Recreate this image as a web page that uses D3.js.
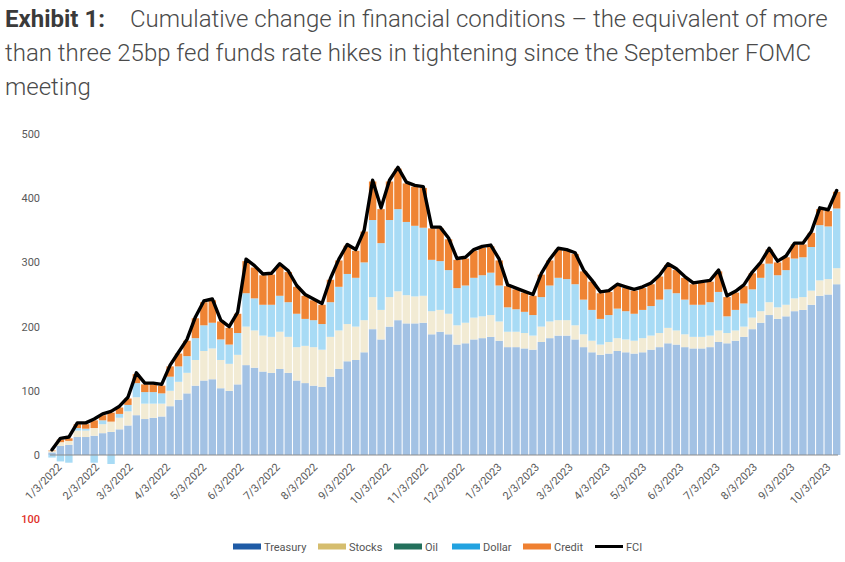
<!DOCTYPE html>
<html><head><meta charset="utf-8">
<script src="https://cdn.jsdelivr.net/npm/d3@7"></script>
<style>
html,body{margin:0;padding:0;background:#fff;}
svg{display:block;}
</style></head>
<body>
<svg id="chart" width="845" height="562"></svg>
<script>
// ---- Data (weekly readings, starting Monday 1/3/2022) ----
const fci      = [8,26,28,50,50,56,64,68,76,90,128,112,112,110,140,160,180,215,240,243,210,200,222,305,295,282,283,298,287,264,250,243,236,275,305,328,320,350,428,385,428,448,425,420,418,355,355,338,306,308,320,325,327,305,265,260,255,250,283,305,322,320,315,288,272,254,256,266,262,258,262,268,280,298,290,278,268,270,272,288,248,255,265,285,300,322,302,310,330,330,348,385,382,412];
const treasury = [4,14,16,28,28,30,34,36,40,46,62,56,58,60,76,86,96,108,116,118,104,100,110,140,136,130,128,134,128,116,112,108,106,122,134,146,148,160,196,180,200,210,205,205,206,188,192,188,172,174,180,182,184,178,168,168,166,164,176,182,186,186,180,168,160,156,158,162,160,158,160,164,168,174,172,168,166,166,168,176,174,178,184,196,206,218,212,216,224,226,234,248,250,266];
const stocks   = [2,6,6,10,10,12,14,16,18,22,28,24,22,20,24,28,32,40,46,48,44,42,46,60,58,56,56,58,56,52,58,60,58,62,60,58,52,50,50,46,46,45,44,42,42,36,34,32,30,32,34,34,34,30,24,24,24,22,24,26,24,24,22,20,18,16,18,20,20,20,22,22,22,24,22,20,18,18,18,18,16,16,16,18,18,20,18,18,20,20,22,24,24,25];
const oil      = [0,0,0,0,0,0,0,0,0,0,0,0,0,0,0,0,0,0,0,0,0,0,0,0,0,0,0,0,0,0,0,0,0,0,0,0,0,0,0,0,0,0,0,0,0,0,0,0,0,0,0,0,0,0,0,0,0,0,0,0,0,0,0,0,0,0,0,0,0,0,0,0,0,0,0,0,0,0,0,0,0,0,0,0,0,0,0,0,0,0,0,0,0,0];
const dollar   = [-4,-10,-12,4,3,-12,6,-14,6,10,22,18,18,16,22,24,26,34,40,40,32,30,34,52,50,48,50,56,54,52,42,42,40,54,68,78,76,90,120,104,120,128,114,110,106,80,76,68,58,58,62,64,66,56,38,35,33,32,46,56,66,64,64,54,48,40,42,46,44,42,44,46,52,60,58,54,50,50,52,60,26,32,36,44,52,60,50,54,62,62,68,86,82,93];
const credit   = [1,4,4,6,7,12,8,14,10,10,14,12,12,12,16,20,24,31,36,35,28,26,30,50,48,46,47,48,47,42,36,31,30,35,41,44,42,48,60,53,60,63,60,61,62,49,51,48,44,42,42,43,41,39,33,31,30,30,35,39,44,44,47,44,44,40,36,36,36,36,34,34,36,38,36,34,32,34,32,32,30,27,27,25,22,22,20,20,22,20,22,25,24,26];

const seriesNames  = ["Treasury","Stocks","Oil","Dollar","Credit"];
const legendNames  = ["Treasury","Stocks","Oil","Dollar","Credit","FCI"];
const yTickValues  = [0,100,200,300,400,500];
const xTickLabels  = ["1/3/2022","2/3/2022","3/3/2022","4/3/2022","5/3/2022","6/3/2022","7/3/2022","8/3/2022","9/3/2022","10/3/2022","11/3/2022","12/3/2022","1/3/2023","2/3/2023","3/3/2023","4/3/2023","5/3/2023","6/3/2023","7/3/2023","8/3/2023","9/3/2023","10/3/2023"];
const titleBold = "Exhibit 1:";
const titleLines = ["Cumulative change in financial conditions \u2013 the equivalent of more",
                    "than three 25bp fed funds rate hikes in tightening since the September FOMC",
                    "meeting"];
const strayLabel = "100";

// ---- Build ----
const weeks = d3.timeMonday.range(new Date(2022,0,3), new Date(2023,9,17));
const seriesData = {Treasury: treasury, Stocks: stocks, Oil: oil, Dollar: dollar, Credit: credit};
const rows = weeks.map((d,i) => {
  const r = {date: d, FCI: fci[i]};
  seriesNames.forEach(k => r[k] = seriesData[k][i]);
  return r;
});

const barColors = {Treasury:"#a3c2e4", Stocks:"#f2ebd4", Oil:"#23705c", Dollar:"#a8dbf5", Credit:"#ef8434"};
const legendColors = {Treasury:"#1f5ba6", Stocks:"#d5bd6e", Oil:"#23705c", Dollar:"#22a2e0", Credit:"#ef8031"};

const svg = d3.select("#chart");
const parse = d3.timeParse("%m/%d/%Y");

const x = d3.scaleTime().domain([new Date(2022,0,3), new Date(2023,9,3)]).range([52, 821]);
const y = d3.scaleLinear().domain([0,500]).range([455,134]);

// Title
const t = svg.append("g").attr("font-family","Roboto, 'Noto Sans', sans-serif").attr("font-size",24);
t.append("text").attr("x",5).attr("y",27).attr("font-weight",700).attr("fill","#3a3a3a").text(titleBold);
titleLines.forEach((s,i)=>{
  t.append("text").attr("x", i===0?130:5).attr("y",27+i*34).attr("font-weight",300).attr("fill","#4a4a4a").text(s);
});

// Bars
const stack = d3.stack().keys(seriesNames).offset(d3.stackOffsetDiverging);
const stacked = stack(rows);
const bw = 7.4;
const g = svg.append("g");
stacked.forEach(layer => {
  g.append("g").attr("fill", barColors[layer.key])
   .selectAll("rect").data(layer).join("rect")
   .attr("x", d => x(d.data.date) - bw/2)
   .attr("width", bw)
   .attr("y", d => y(Math.max(d[0],d[1])))
   .attr("height", d => Math.abs(y(d[0]) - y(d[1])));
});

// X axis
const xAxis = d3.axisBottom(x)
  .tickValues(xTickLabels.map(parse))
  .tickFormat((d,i) => xTickLabels[i])
  .tickSize(0).tickPadding(6);
const xg = svg.append("g").attr("transform","translate(0,455)").call(xAxis);
xg.select(".domain").attr("stroke","#8c8c8c").attr("stroke-width",1.2).attr("d","M50,0H838");
xg.selectAll("text")
  .attr("font-family","Roboto, sans-serif").attr("font-size",11).attr("fill","#595959")
  .attr("text-anchor","end").attr("dy","0.35em")
  .attr("transform","translate(3,6) rotate(-45)");

// Y axis
const yAxis = d3.axisLeft(y).tickValues(yTickValues).tickSize(0).tickPadding(3);
const yg = svg.append("g").attr("transform","translate(43,0)").call(yAxis);
yg.select(".domain").remove();
yg.selectAll("text").attr("font-family","Roboto, sans-serif").attr("font-size",11).attr("fill","#595959");

// FCI line
const line = d3.line().x(d => x(d.date)).y(d => y(d.FCI)).curve(d3.curveLinear);
svg.append("path").datum(rows).attr("fill","none").attr("stroke","#000")
  .attr("stroke-width",3.4).attr("stroke-linejoin","round").attr("stroke-linecap","round")
  .attr("d", line);

// Stray red label
svg.append("text").attr("x",40).attr("y",523).attr("text-anchor","end")
  .attr("font-family","Roboto, sans-serif").attr("font-size",11).attr("font-weight",500)
  .attr("fill","#e0302a").text(strayLabel);

// Legend
const lx = [233,318,394,452,523,595];
const lg = svg.append("g").attr("font-family","Roboto, sans-serif").attr("font-size",11).attr("fill","#555");
legendNames.forEach((n,i)=>{
  if (n === "FCI") {
    lg.append("line").attr("x1",lx[i]).attr("x2",lx[i]+28).attr("y1",546.5).attr("y2",546.5)
      .attr("stroke","#000").attr("stroke-width",3);
  } else {
    lg.append("rect").attr("x",lx[i]).attr("y",543.5).attr("width",28).attr("height",6).attr("fill",legendColors[n]);
  }
  lg.append("text").attr("x",lx[i]+31).attr("y",550.5).text(n);
});
</script>
</body></html>
